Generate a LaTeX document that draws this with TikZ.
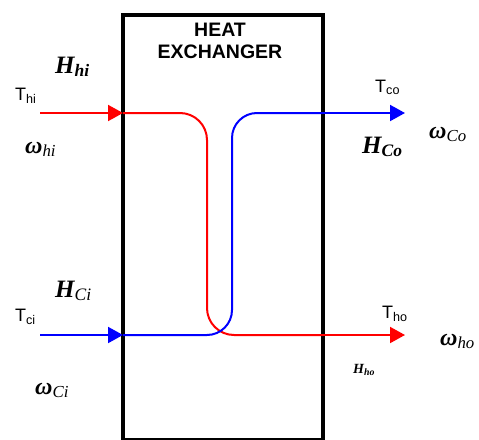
\documentclass[tikz,border=0pt]{standalone}
\usepackage{fontspec}
\setmainfont{Liberation Serif}
\setsansfont{Liberation Sans}
\usetikzlibrary{arrows.meta, positioning}

\begin{document}
\begin{tikzpicture}[
    x=1pt, y=-1pt,
    hot/.style={draw=red, line width=2pt},
    cold/.style={draw=blue, line width=2pt},
    tip/.style={-{Triangle[length=15pt, width=16pt]}},
    tlab/.style={anchor=base west, inner sep=0pt, font=\sffamily\fontsize{18}{18}\selectfont},
    hlab/.style={anchor=base west, inner sep=0pt, font=\bfseries\itshape\fontsize{25}{25}\selectfont},
    wlab/.style={anchor=base west, inner sep=0pt, font=\bfseries\itshape\fontsize{24}{24}\selectfont}
]
  \useasboundingbox (0,0) rectangle (479,439);

  % --- EXCHANGER BOX ---
  \draw[line width=4pt] (123,15) rectangle (323,440);
  \node[font=\sffamily\bfseries\fontsize{19.5}{22}\selectfont, align=center] (title) at (220,41) {HEAT\\EXCHANGER};

  % --- FLOW POINTS ---
  \coordinate (hin) at (40,113);
  \coordinate (hent) at (123,113);
  \coordinate (hexit) at (323,335);
  \coordinate (hout) at (405,335);
  \coordinate (cin) at (40,335);
  \coordinate (cent) at (123,335);
  \coordinate (cexit) at (323,113);
  \coordinate (cout) at (405,113);

  % --- HOT STREAM ---
  \draw[hot, tip] (hin) -- (hent);
  \draw[hot, rounded corners=27pt] (hent) -- (207,113) -- (207,335) -- (hexit);
  \draw[hot, tip] (hexit) -- (hout);

  % --- COLD STREAM ---
  \draw[cold, tip] (cin) -- (cent);
  \draw[cold, rounded corners=25pt] (cent) -- (232,335) -- (232,113) -- (cexit);
  \draw[cold, tip] (cexit) -- (cout);

  % --- LABELS ---
  \node[tlab] (thi) at (15,100) {T\textsubscript{hi}};
  \node[tlab] (tci) at (15,321) {T\textsubscript{ci}};
  \node[tlab] (tco) at (375,92) {T\textsubscript{co}};
  \node[tlab] (tho) at (382,318) {T\textsubscript{ho}};

  \node[hlab] (hhi) at (55,73) {H\textsubscript{hi}};
  \node[hlab] (hci) at (55,297) {H\textsubscript{\mdseries Ci}};
  \node[hlab] (hco) at (362,153) {H\textsubscript{Co}};
  \node[hlab, font=\bfseries\itshape\fontsize{14}{14}\selectfont] (hho) at (353,373) {H\textsubscript{ho}};

  \node[wlab] (whi) at (25,153) {ω\textsubscript{\mdseries hi}};
  \node[wlab] (wci) at (35,394) {ω\textsubscript{\mdseries Ci}};
  \node[wlab] (wco) at (429,138) {ω\textsubscript{\mdseries Co}};
  \node[wlab] (who) at (440,345) {ω\textsubscript{\mdseries ho}};
\end{tikzpicture}
\end{document}
